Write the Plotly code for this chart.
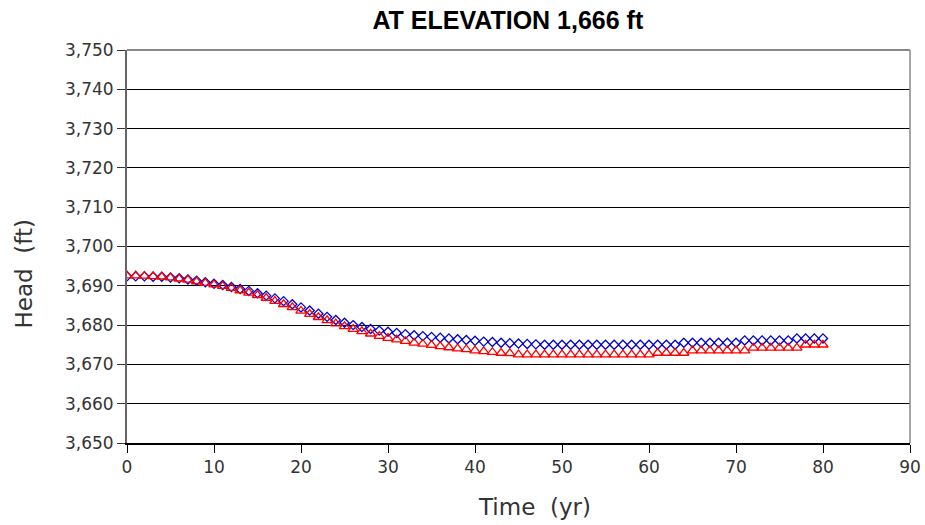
import plotly.graph_objects as go

years = list(range(0, 81))

head_blue = [
    3692.4, 3692.4, 3692.4, 3692.3, 3692.3, 3692.1, 3691.9, 3691.6, 3691.3, 3690.9,
    3690.5, 3690.2, 3689.7, 3689.2, 3688.7, 3688.1, 3687.5, 3686.8, 3686.1, 3685.3,
    3684.5, 3683.7, 3682.9, 3682.1, 3681.3, 3680.6, 3680.0, 3679.5, 3679.0, 3678.6,
    3678.3, 3678.0, 3677.7, 3677.4, 3677.2, 3677.0, 3676.8, 3676.6, 3676.4, 3676.2,
    3676.0, 3675.8, 3675.7, 3675.5, 3675.4, 3675.3, 3675.2, 3675.1, 3675.0, 3675.0,
    3675.0, 3675.0, 3675.0, 3675.0, 3675.0, 3675.0, 3675.0, 3675.0, 3675.0, 3675.0,
    3675.0, 3675.0, 3675.0, 3675.0, 3675.5, 3675.5, 3675.5, 3675.5, 3675.5, 3675.5,
    3675.5, 3676.1, 3676.1, 3676.1, 3676.1, 3676.1, 3676.1, 3676.6, 3676.6, 3676.6,
    3676.6,
]

head_red = [
    3692.6, 3692.6, 3692.5, 3692.4, 3692.3, 3692.1, 3691.8, 3691.5, 3691.1, 3690.7,
    3690.3, 3689.9, 3689.4, 3688.8, 3688.2, 3687.6, 3686.9, 3686.1, 3685.3, 3684.5,
    3683.6, 3682.8, 3682.0, 3681.2, 3680.4, 3679.7, 3679.0, 3678.4, 3677.8, 3677.2,
    3676.7, 3676.3, 3675.9, 3675.5, 3675.2, 3674.9, 3674.6, 3674.3, 3674.0, 3673.8,
    3673.5, 3673.3, 3673.1, 3672.9, 3672.8, 3672.5, 3672.5, 3672.5, 3672.5, 3672.5,
    3672.5, 3672.5, 3672.5, 3672.5, 3672.5, 3672.5, 3672.5, 3672.5, 3672.5, 3672.5,
    3672.5, 3672.9, 3672.9, 3672.9, 3672.9, 3673.5, 3673.5, 3673.5, 3673.5, 3673.5,
    3673.5, 3673.5, 3674.2, 3674.2, 3674.2, 3674.2, 3674.2, 3674.2, 3675.0, 3675.0,
    3675.0,
]

y_ticks = list(range(3650, 3751, 10))
y_tick_text = [f"{v:,}" for v in y_ticks]
x_ticks = list(range(0, 91, 10))

fig = go.Figure()
fig.add_trace(go.Scatter(
    x=years, y=head_blue, mode="markers", name="Series 1",
    marker=dict(symbol="diamond-open", size=7, color="#0000CC", line=dict(width=1.3, color="#0000CC")),
))
fig.add_trace(go.Scatter(
    x=years, y=head_red, mode="markers", name="Series 2",
    marker=dict(symbol="triangle-up-open", size=9, color="#FF0000", line=dict(width=1.3, color="#FF0000")),
))

tick_font = dict(family="DejaVu Sans", size=17, color="#333333")
title_font = dict(family="DejaVu Sans", size=23, color="#333333")

fig.update_layout(
    width=925, height=525,
    margin=dict(l=127, r=15, t=50, b=82, autoexpand=False),
    plot_bgcolor="white", paper_bgcolor="white",
    showlegend=False,
    title=dict(text="<b>AT ELEVATION 1,666 ft</b>", x=0.549, xanchor="center", y=0.962, yanchor="middle",
               font=dict(family="Liberation Sans", size=25, color="black")),
    xaxis=dict(
        range=[0, 90], tickvals=x_ticks, ticks="outside", ticklen=8, tickcolor="black",
        showline=True, linecolor="black", linewidth=1.5, showgrid=False, zeroline=False,
        tickfont=tick_font, automargin=False,
    ),
    yaxis=dict(
        range=[3650, 3750], tickvals=y_ticks, ticktext=y_tick_text, ticks="outside", ticklen=8, tickcolor="#333333",
        showline=True, linecolor="#666666", linewidth=2, showgrid=True, gridcolor="black", gridwidth=1,
        zeroline=False, tickfont=tick_font, automargin=False,
    ),
    annotations=[
        dict(text="Time\u00a0\u00a0(yr)", xref="paper", yref="paper", x=0.521, y=-0.163,
             xanchor="center", yanchor="middle", showarrow=False, font=title_font),
        dict(text="Head\u00a0\u00a0(ft)", xref="paper", yref="paper", x=-0.131, y=0.43,
             xanchor="center", yanchor="middle", showarrow=False, textangle=-90, font=title_font),
    ],
    shapes=[
        dict(type="line", xref="paper", yref="paper", x0=0, x1=1, y0=1, y1=1, line=dict(color="#888888", width=2)),
        dict(type="line", xref="paper", yref="paper", x0=1, x1=1, y0=0, y1=1, line=dict(color="#888888", width=1.5)),
    ],
)

fig.write_html("out.html")
